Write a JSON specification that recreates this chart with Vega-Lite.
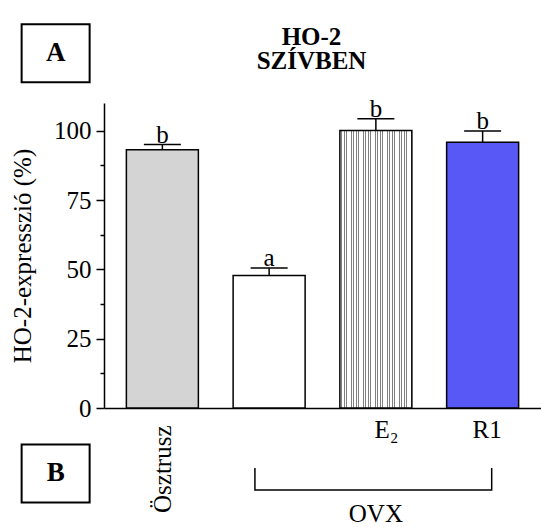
{
  "$schema": "https://vega.github.io/schema/vega-lite/v6.json",
  "width": 437,
  "height": 305,
  "autosize": {"type": "none"},
  "padding": {"left": 104, "top": 103, "right": 0, "bottom": 119},
  "background": "white",
  "config": {"view": {"stroke": null}, "font": "'Liberation Serif', 'Times New Roman', Times, serif"},
  "title": {
    "text": ["HO-2", "SZÍVBEN"],
    "font": "'Liberation Serif', 'Times New Roman', Times, serif",
    "fontSize": 25,
    "fontWeight": "bold",
    "color": "black",
    "anchor": "middle",
    "frame": "group",
    "dx": -11,
    "offset": -54,
    "lineHeight": 24
  },
  "datasets": {
    "bars": [
      {"x": 1, "group": "Ösztrusz", "mean": 93.1, "hi": 95.0, "sig": "b"},
      {"x": 2, "group": "OVX", "mean": 47.8, "hi": 50.5, "sig": "a"},
      {"x": 3, "group": "OVX + E2", "mean": 100.1, "hi": 104.3, "sig": "b"},
      {"x": 4, "group": "OVX + R1", "mean": 95.8, "hi": 99.9, "sig": "b"}
    ],
    "panels": [
      {"x": 0, "y": 127.9, "label": "A"},
      {"x": 0, "y": -23.6, "label": "B"}
    ],
    "bracket": [
      {"x": 1.867, "y": -21.6, "o": 1},
      {"x": 1.867, "y": -29.6, "o": 2},
      {"x": 4.085, "y": -29.6, "o": 3},
      {"x": 4.085, "y": -21.6, "o": 4}
    ],
    "groupLabel": [{"x": 3, "y": -41.2, "label": "OVX"}]
  },
  "encoding": {
    "x": {
      "field": "x",
      "type": "quantitative",
      "scale": {"domain": [0.5, 4.5], "nice": false, "zero": false},
      "axis": {
        "values": [1, 3, 4],
        "labelExpr": "datum.value == 1 ? 'Ösztrusz' : datum.value == 3 ? 'E₂' : 'R1'",
        "ticks": false,
        "tickSize": 0,
        "grid": false,
        "title": null,
        "domainColor": "black",
        "domainWidth": 1.5,
        "labelFont": "'Liberation Serif', 'Times New Roman', Times, serif",
        "labelFontSize": 25,
        "labelColor": "black",
        "labelAngle": {"expr": "datum.value == 1 ? -90 : 0"},
        "labelAlign": {"condition": {"test": "datum.value == 1", "value": "right"}, "value": "center"},
        "labelBaseline": {"condition": {"test": "datum.value == 1", "value": "middle"}, "value": "top"},
        "labelPadding": {"condition": {"test": "datum.value == 1", "value": 17}, "value": 9},
        "labelOffset": {"condition": [{"test": "datum.value == 3", "value": 10}, {"test": "datum.value == 4", "value": 4}], "value": 0},
        "labelFlush": false,
        "labelOverlap": false,
        "labelBound": false
      }
    }
  },
  "layer": [
    {
      "data": {"name": "bars"},
      "mark": {"type": "bar", "width": 72, "stroke": "black", "strokeWidth": 1.5},
      "encoding": {
        "y": {
          "field": "mean",
          "type": "quantitative",
          "scale": {"domain": [0, 110], "nice": false},
          "axis": {
            "orient": "left",
            "values": [0, 25, 50, 75, 100],
            "title": "HO-2-expresszió (%)",
            "titleFont": "'Liberation Serif', 'Times New Roman', Times, serif",
            "titleFontSize": 25,
            "titleFontWeight": "normal",
            "titleColor": "black",
            "titlePadding": 18,
            "labelFont": "'Liberation Serif', 'Times New Roman', Times, serif",
            "labelFontSize": 25,
            "labelColor": "black",
            "labelPadding": 5,
            "labelFlush": false,
            "labelOverlap": false,
            "tickSize": 8,
            "tickColor": "black",
            "tickWidth": 1.5,
            "domainColor": "black",
            "domainWidth": 1.5,
            "grid": false
          }
        },
        "fill": {
          "condition": [
            {"test": "datum.x == 1", "value": "#d4d4d4"},
            {"test": "datum.x == 4", "value": "#5858f6"},
            {"test": "datum.x == 3", "value": {
              "gradient": "linear", "x1": 0, "x2": 1, "y1": 0, "y2": 0,
              "stops": [
                {"offset": 0, "color": "#ffffff"}, {"offset": 0.02, "color": "#ffffff"}, {"offset": 0.02, "color": "#808080"}, {"offset": 0.0333, "color": "#808080"},
                {"offset": 0.0333, "color": "#ffffff"}, {"offset": 0.0533, "color": "#ffffff"}, {"offset": 0.0533, "color": "#808080"}, {"offset": 0.0667, "color": "#808080"},
                {"offset": 0.0667, "color": "#ffffff"}, {"offset": 0.0867, "color": "#ffffff"}, {"offset": 0.0867, "color": "#808080"}, {"offset": 0.1, "color": "#808080"},
                {"offset": 0.1, "color": "#ffffff"}, {"offset": 0.12, "color": "#ffffff"}, {"offset": 0.12, "color": "#808080"}, {"offset": 0.1333, "color": "#808080"},
                {"offset": 0.1333, "color": "#ffffff"}, {"offset": 0.1533, "color": "#ffffff"}, {"offset": 0.1533, "color": "#808080"}, {"offset": 0.1667, "color": "#808080"},
                {"offset": 0.1667, "color": "#ffffff"}, {"offset": 0.1867, "color": "#ffffff"}, {"offset": 0.1867, "color": "#808080"}, {"offset": 0.2, "color": "#808080"},
                {"offset": 0.2, "color": "#ffffff"}, {"offset": 0.22, "color": "#ffffff"}, {"offset": 0.22, "color": "#808080"}, {"offset": 0.2333, "color": "#808080"},
                {"offset": 0.2333, "color": "#ffffff"}, {"offset": 0.2533, "color": "#ffffff"}, {"offset": 0.2533, "color": "#808080"}, {"offset": 0.2667, "color": "#808080"},
                {"offset": 0.2667, "color": "#ffffff"}, {"offset": 0.2867, "color": "#ffffff"}, {"offset": 0.2867, "color": "#808080"}, {"offset": 0.3, "color": "#808080"},
                {"offset": 0.3, "color": "#ffffff"}, {"offset": 0.32, "color": "#ffffff"}, {"offset": 0.32, "color": "#808080"}, {"offset": 0.3333, "color": "#808080"},
                {"offset": 0.3333, "color": "#ffffff"}, {"offset": 0.3533, "color": "#ffffff"}, {"offset": 0.3533, "color": "#808080"}, {"offset": 0.3667, "color": "#808080"},
                {"offset": 0.3667, "color": "#ffffff"}, {"offset": 0.3867, "color": "#ffffff"}, {"offset": 0.3867, "color": "#808080"}, {"offset": 0.4, "color": "#808080"},
                {"offset": 0.4, "color": "#ffffff"}, {"offset": 0.42, "color": "#ffffff"}, {"offset": 0.42, "color": "#808080"}, {"offset": 0.4333, "color": "#808080"},
                {"offset": 0.4333, "color": "#ffffff"}, {"offset": 0.4533, "color": "#ffffff"}, {"offset": 0.4533, "color": "#808080"}, {"offset": 0.4667, "color": "#808080"},
                {"offset": 0.4667, "color": "#ffffff"}, {"offset": 0.4867, "color": "#ffffff"}, {"offset": 0.4867, "color": "#808080"}, {"offset": 0.5, "color": "#808080"},
                {"offset": 0.5, "color": "#ffffff"}, {"offset": 0.52, "color": "#ffffff"}, {"offset": 0.52, "color": "#808080"}, {"offset": 0.5333, "color": "#808080"},
                {"offset": 0.5333, "color": "#ffffff"}, {"offset": 0.5533, "color": "#ffffff"}, {"offset": 0.5533, "color": "#808080"}, {"offset": 0.5667, "color": "#808080"},
                {"offset": 0.5667, "color": "#ffffff"}, {"offset": 0.5867, "color": "#ffffff"}, {"offset": 0.5867, "color": "#808080"}, {"offset": 0.6, "color": "#808080"},
                {"offset": 0.6, "color": "#ffffff"}, {"offset": 0.62, "color": "#ffffff"}, {"offset": 0.62, "color": "#808080"}, {"offset": 0.6333, "color": "#808080"},
                {"offset": 0.6333, "color": "#ffffff"}, {"offset": 0.6533, "color": "#ffffff"}, {"offset": 0.6533, "color": "#808080"}, {"offset": 0.6667, "color": "#808080"},
                {"offset": 0.6667, "color": "#ffffff"}, {"offset": 0.6867, "color": "#ffffff"}, {"offset": 0.6867, "color": "#808080"}, {"offset": 0.7, "color": "#808080"},
                {"offset": 0.7, "color": "#ffffff"}, {"offset": 0.72, "color": "#ffffff"}, {"offset": 0.72, "color": "#808080"}, {"offset": 0.7333, "color": "#808080"},
                {"offset": 0.7333, "color": "#ffffff"}, {"offset": 0.7533, "color": "#ffffff"}, {"offset": 0.7533, "color": "#808080"}, {"offset": 0.7667, "color": "#808080"},
                {"offset": 0.7667, "color": "#ffffff"}, {"offset": 0.7867, "color": "#ffffff"}, {"offset": 0.7867, "color": "#808080"}, {"offset": 0.8, "color": "#808080"},
                {"offset": 0.8, "color": "#ffffff"}, {"offset": 0.82, "color": "#ffffff"}, {"offset": 0.82, "color": "#808080"}, {"offset": 0.8333, "color": "#808080"},
                {"offset": 0.8333, "color": "#ffffff"}, {"offset": 0.8533, "color": "#ffffff"}, {"offset": 0.8533, "color": "#808080"}, {"offset": 0.8667, "color": "#808080"},
                {"offset": 0.8667, "color": "#ffffff"}, {"offset": 0.8867, "color": "#ffffff"}, {"offset": 0.8867, "color": "#808080"}, {"offset": 0.9, "color": "#808080"},
                {"offset": 0.9, "color": "#ffffff"}, {"offset": 0.92, "color": "#ffffff"}, {"offset": 0.92, "color": "#808080"}, {"offset": 0.9333, "color": "#808080"},
                {"offset": 0.9333, "color": "#ffffff"}, {"offset": 0.9533, "color": "#ffffff"}, {"offset": 0.9533, "color": "#808080"}, {"offset": 0.9667, "color": "#808080"},
                {"offset": 0.9667, "color": "#ffffff"}, {"offset": 0.9867, "color": "#ffffff"}, {"offset": 0.9867, "color": "#808080"}, {"offset": 1, "color": "#808080"}
              ]
            }}
          ],
          "value": "white"
        }
      }
    },
    {
      "data": {"name": "bars"},
      "mark": {"type": "rule", "color": "black", "strokeWidth": 1.5},
      "encoding": {
        "y": {"field": "mean", "type": "quantitative", "scale": {"domain": [0, 110], "nice": false}, "axis": null},
        "y2": {"field": "hi"}
      }
    },
    {
      "data": {"name": "bars"},
      "mark": {"type": "point", "shape": "stroke", "size": 1369, "filled": false, "stroke": "black", "strokeWidth": 1.5, "opacity": 1},
      "encoding": {
        "y": {"field": "hi", "type": "quantitative", "scale": {"domain": [0, 110], "nice": false}, "axis": null}
      }
    },
    {
      "data": {"name": "bars"},
      "mark": {"type": "text", "baseline": "alphabetic", "align": "center", "dy": -2, "font": "'Liberation Serif', 'Times New Roman', Times, serif", "fontSize": 25, "color": "black"},
      "encoding": {
        "y": {
          "field": "hi",
          "type": "quantitative",
          "scale": {"domain": [0, 110], "nice": false},
          "axis": {
            "orient": "left",
            "values": [12.5, 37.5, 62.5, 87.5],
            "labels": false,
            "domain": false,
            "tickSize": 4,
            "tickWidth": 1.5,
            "tickColor": "black",
            "title": null,
            "grid": false
          }
        },
        "text": {"field": "sig"}
      }
    },
    {
      "data": {"name": "panels"},
      "mark": {"type": "point", "shape": "M-1,-0.853H1V0.853H-1Z", "size": 4624, "filled": false, "stroke": "black", "strokeWidth": 2, "opacity": 1},
      "encoding": {
        "y": {"field": "y", "type": "quantitative", "scale": {"domain": [0, 110], "nice": false}, "axis": null}
      }
    },
    {
      "data": {"name": "panels"},
      "mark": {"type": "text", "baseline": "middle", "align": "center", "font": "'Liberation Serif', 'Times New Roman', Times, serif", "fontSize": 27, "fontWeight": "bold", "color": "black"},
      "encoding": {
        "y": {"field": "y", "type": "quantitative", "scale": {"domain": [0, 110], "nice": false}, "axis": null},
        "text": {"field": "label"}
      }
    },
    {
      "data": {"name": "bracket"},
      "mark": {"type": "line", "color": "black", "strokeWidth": 1.5},
      "encoding": {
        "y": {"field": "y", "type": "quantitative", "scale": {"domain": [0, 110], "nice": false}, "axis": null},
        "order": {"field": "o"}
      }
    },
    {
      "data": {"name": "groupLabel"},
      "mark": {"type": "text", "baseline": "alphabetic", "align": "center", "font": "'Liberation Serif', 'Times New Roman', Times, serif", "fontSize": 25, "color": "black"},
      "encoding": {
        "y": {"field": "y", "type": "quantitative", "scale": {"domain": [0, 110], "nice": false}, "axis": null},
        "text": {"field": "label"}
      }
    }
  ],
  "resolve": {"axis": {"y": "independent"}}
}
